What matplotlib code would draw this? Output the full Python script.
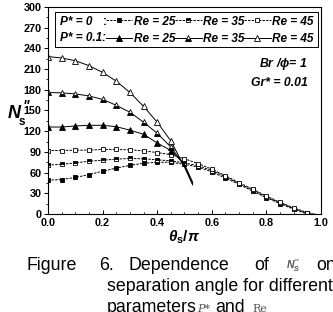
import matplotlib
matplotlib.use('Agg')
import matplotlib.pyplot as plt
import numpy as np
from matplotlib.patches import Rectangle
from matplotlib.ticker import MultipleLocator

plt.rcParams['font.family'] = 'Liberation Sans'
plt.rcParams['mathtext.fontset'] = 'custom'
plt.rcParams['mathtext.it'] = 'Liberation Sans:italic:bold'
plt.rcParams['mathtext.rm'] = 'Liberation Sans:bold'
plt.rcParams['mathtext.bf'] = 'Liberation Sans:bold'

# data
theta0 = [0.0, 0.05, 0.1, 0.15, 0.2, 0.25, 0.3, 0.35, 0.4, 0.45, 0.5,
          0.55, 0.6, 0.65, 0.7, 0.75, 0.8, 0.85, 0.9, 0.95, 1.0]
p0_re25 = [49, 50, 53, 57, 62, 66.5, 70.5, 73.5, 75, 75, 72,
           68, 61, 52, 43, 33, 23.5, 15, 7, 0, -5]
p0_re35 = [71, 72, 74, 76.5, 78, 79.5, 80.5, 80, 78.5, 77, 74,
           70, 63, 54, 44, 34.5, 25, 16, 8, 1, -3]
p0_re45 = [92, 92, 92.5, 92.5, 93.5, 93.5, 93, 91.5, 89, 86, 80,
           73, 65, 55.5, 45.5, 36, 26, 17, 9, 2, -2]

theta1 = [0.0, 0.05, 0.1, 0.15, 0.2, 0.25, 0.3, 0.35, 0.4, 0.45, 0.5, 0.53]
p1_re25 = [126, 126, 127.5, 128.5, 128.5, 126.5, 121.5, 115.5, 103, 92, 72, 46]
p1_re35 = [176, 175.5, 174, 171, 166, 157.5, 147.5, 133, 117, 97, 70, 44]
p1_re45 = [228, 226, 222, 215, 205, 192.5, 176, 156, 133, 106, 68, 42]

re_labels = ['Re = 25', 'Re = 35', 'Re = 45']

fig = plt.figure(figsize=(3.33, 3.12), dpi=100)
ax = fig.add_axes([0.144, 0.314, 0.820, 0.664])

dash = (0, (2.5, 1.2))
l0 = []
for y, fs in zip([p0_re25, p0_re35, p0_re45], ['full', 'top', 'none']):
    ln, = ax.plot(theta0, y, color='k', lw=0.7, ls=dash, marker='s', ms=3.2,
                  mfc='k' if fs != 'none' else 'white', fillstyle=fs if fs != 'none' else 'full',
                  mec='k', mew=0.6, markevery=slice(0, 20), markerfacecoloralt='white')
    l0.append(ln)
l1 = []
for y, fs in zip([p1_re25, p1_re35, p1_re45], ['full', 'bottom', 'none']):
    ln, = ax.plot(theta1, y, color='k', lw=0.7, marker='^', ms=4.0,
                  mfc='k' if fs != 'none' else 'white', fillstyle=fs if fs != 'none' else 'full',
                  mec='k', mew=0.6, markevery=slice(0, 10), markerfacecoloralt='white')
    l1.append(ln)

ax.set_xlim(0, 1.0)
ax.set_ylim(0, 300)
ax.xaxis.set_major_locator(MultipleLocator(0.2))
ax.xaxis.set_minor_locator(MultipleLocator(0.05))
ax.yaxis.set_major_locator(MultipleLocator(30))
ax.yaxis.set_minor_locator(MultipleLocator(15))
ax.xaxis.set_major_formatter(matplotlib.ticker.FormatStrFormatter('%.1f'))
ax.tick_params(axis='x', which='both', direction='in', labelsize=7.8, pad=3)
ax.tick_params(axis='y', which='both', direction='out', labelsize=7.8, pad=1.5)
ax.tick_params(which='major', length=3, width=0.7)
ax.tick_params(which='minor', length=1.8, width=0.6)
for lab in ax.get_xticklabels() + ax.get_yticklabels():
    lab.set_fontweight('bold')
for s in ax.spines.values():
    s.set_linewidth(0.8)

# legend box
handles = [l0[0], l1[0], l0[1], l1[1], l0[2], l1[2]]
labels = [re_labels[0], re_labels[0], re_labels[1], re_labels[1], re_labels[2], re_labels[2]]
leg = ax.legend(handles, labels, ncol=3, loc='upper left', bbox_to_anchor=(0.212, 0.958),
                frameon=False, handlelength=2.25, handletextpad=0.1, columnspacing=0.0,
                labelspacing=0.45, borderpad=0, borderaxespad=0,
                prop={'family': 'Liberation Sans', 'weight': 'bold', 'style': 'italic', 'size': 8.5})
ax.add_patch(Rectangle((0.026, 0.807), 0.963, 0.169, transform=ax.transAxes,
                       fill=False, lw=0.7, ec='k', zorder=5))
ax.text(0.045, 0.928, 'P* = 0', transform=ax.transAxes, fontsize=8.5, fontweight='bold',
        fontstyle='italic', va='center')
ax.text(0.2, 0.928, ':', transform=ax.transAxes, fontsize=8.5, fontweight='bold', va='center')
ax.text(0.045, 0.85, 'P* = 0.1:', transform=ax.transAxes, fontsize=8.5, fontweight='bold',
        fontstyle='italic', va='center')

ax.text(0.952, 0.725, r'Br /$\phi$= 1', transform=ax.transAxes, fontsize=8.8, fontweight='bold',
        fontstyle='italic', ha='right', va='center')
ax.text(0.952, 0.633, 'Gr* = 0.01', transform=ax.transAxes, fontsize=8.8, fontweight='bold',
        fontstyle='italic', ha='right', va='center')

fig.text(0.024, 1 - 113 / 312, 'N', fontsize=13, fontweight='bold', fontstyle='italic',
         va='center')
fig.text(0.056, 1 - 122 / 312, 's', fontsize=8.5, fontweight='bold', va='center')
fig.text(0.069, 1 - 106 / 312, '"', fontsize=10, fontweight='bold', fontstyle='italic',
         va='center')
ax.set_xlabel(r'$\theta_{\mathbf{s}}/\pi$', fontsize=11, labelpad=0)

# caption
cap = dict(fontsize=12.8, family='Liberation Sans', va='baseline')
b1 = 1 - 270 / 312
fig.text(27 / 333, b1, 'Figure', **cap)
fig.text(99 / 333, b1, '6.', **cap)
fig.text(128 / 333, b1, 'Dependence', **cap)
fig.text(254 / 333, b1, 'of', **cap)
fig.text(286 / 333, b1 + 0.004, r"$N_S''$", va='baseline', fontsize=7.5, family='DejaVu Serif',
         color='#555555')
fig.text(316 / 333, b1, 'on', **cap)
b2 = 1 - 291 / 312
fig.text(107 / 333, b2, 'separation angle for different', **cap)
b3 = 1 - 312 / 312
fig.text(107 / 333, b3, 'parameters', **cap)
fig.text(197 / 333, b3, 'P*', va='baseline', fontsize=8, family='DejaVu Serif',
         style='italic', color='#555555')
fig.text(215 / 333, b3, 'and', **cap)
fig.text(252 / 333, b3, 'Re', va='baseline', fontsize=8, family='DejaVu Serif',
         color='#555555')

fig.savefig('out.png', dpi=100)
